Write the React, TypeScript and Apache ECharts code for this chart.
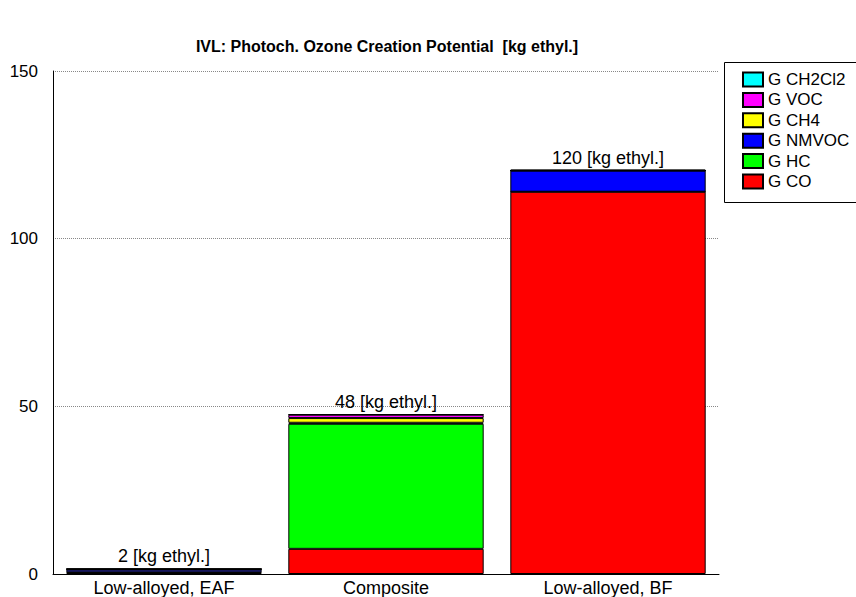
import React, { useEffect, useRef } from "react";
import * as echarts from "echarts";

const categories = ["Low-alloyed, EAF", "Composite", "Low-alloyed, BF"];
const coValues = [0.3, 7.5, 114];
const hcValues = [0.2, 37.3, 0];
const nmvocValues = [0.8, 0.3, 6.3];
const ch4Values = [0.1, 1.4, 0];
const vocValues = [0.1, 1.0, 0];
const ch2cl2Values = [0.05, 0.1, 0.3];
const totalLabels = ["2", "48", "120"];
const yTicks = [0, 50, 100, 150];

const FONT = "Arial, 'Liberation Sans', sans-serif";

export default function App() {
  const ref = useRef<HTMLDivElement>(null);
  useEffect(() => {
    document.body.style.margin = "0";
    if (!ref.current) return;
    const chart = echarts.init(ref.current, null, { renderer: "svg" });
    const mk = (name: string, data: number[], color: string, withLabel = false) => ({
      name,
      type: "bar",
      stack: "total",
      data,
      barCategoryGap: "12%",
      itemStyle: { color, borderColor: "#000", borderWidth: 1 },
      label: withLabel
        ? {
            show: true,
            position: "top",
            distance: 3,
            color: "#000",
            fontSize: 18,
            fontFamily: FONT,
            formatter: (p: any) => totalLabels[p.dataIndex] + " [kg ethyl.]",
          }
        : { show: false },
    });
    chart.setOption({
      animation: false,
      backgroundColor: "#fff",
      title: {
        text: "IVL: Photoch. Ozone Creation Potential  [kg ethyl.]",
        left: 382,
        top: 33,
        textAlign: "center",
        textStyle: { fontSize: 16, fontWeight: "bold", color: "#000", fontFamily: FONT },
      },
      grid: { left: 53, right: 137, top: 71, bottom: 22, containLabel: false },
      legend: {
        data: ["G CH2Cl2", "G VOC", "G CH4", "G NMVOC", "G HC", "G CO"],
        orient: "vertical",
        left: 737,
        top: 66,
        icon: "rect",
        itemWidth: 20,
        itemHeight: 14,
        itemGap: 3.4,
        textStyle: { fontSize: 17, color: "#000", fontFamily: FONT },
        selectedMode: false,
      },
      graphic: [
        {
          type: "rect",
          shape: { x: 724.5, y: 62.5, width: 200, height: 140 },
          style: { fill: "none", stroke: "#000", lineWidth: 1 },
          z: 100,
        },
      ],
      xAxis: {
        type: "category",
        data: categories,
        axisLine: { lineStyle: { color: "#000", width: 1 } },
        axisTick: { show: false },
        axisLabel: { color: "#000", fontSize: 18, fontFamily: FONT, margin: 5 },
      },
      yAxis: {
        type: "value",
        min: 0,
        max: 150,
        interval: 50,
        axisLine: { show: true, lineStyle: { color: "#000", width: 1 } },
        axisTick: { show: false },
        axisLabel: {
          color: "#000",
          fontSize: 17,
          fontFamily: FONT,
          margin: 15,
          formatter: (v: number) => (yTicks.includes(v) ? String(v) : ""),
        },
        splitLine: { show: true, lineStyle: { color: "#888", type: [1, 1], width: 1 } },
      },
      series: [
        mk("G CO", coValues, "#ff0000"),
        mk("G HC", hcValues, "#00ff00"),
        mk("G NMVOC", nmvocValues, "#0000ff"),
        mk("G CH4", ch4Values, "#ffff00"),
        mk("G VOC", vocValues, "#ff00ff"),
        mk("G CH2Cl2", ch2cl2Values, "#00ffff", true),
      ],
    });
    return () => chart.dispose();
  }, []);
  return <div ref={ref} style={{ width: 856, height: 597 }} />;
}
